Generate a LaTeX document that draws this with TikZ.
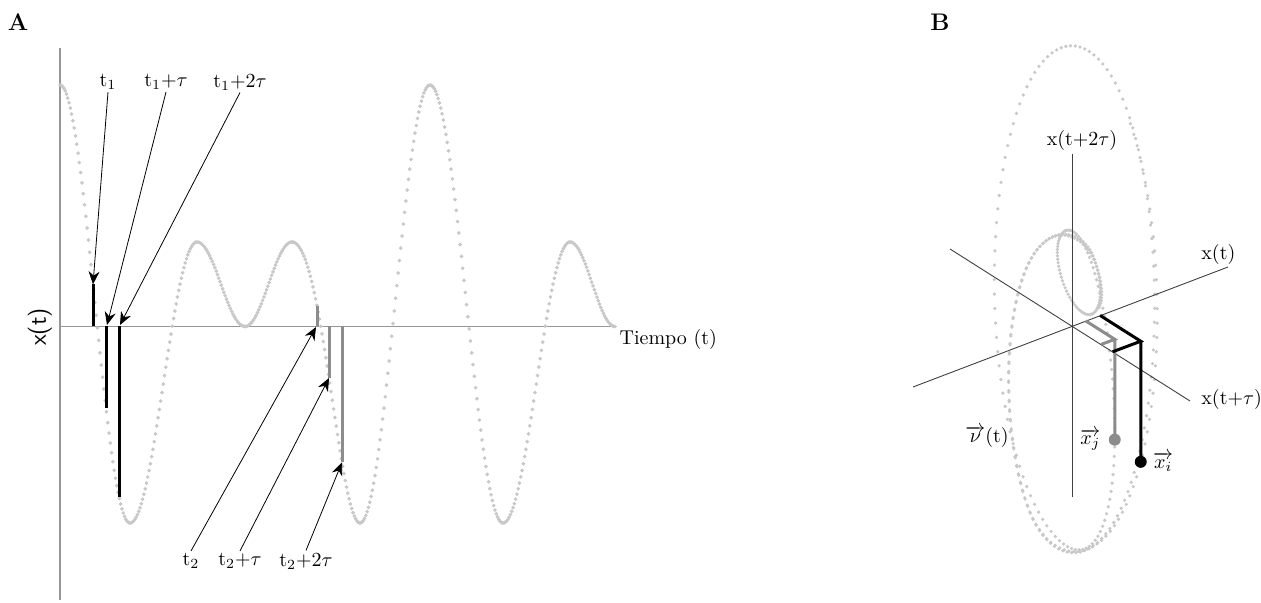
\documentclass[tikz,border=0pt]{standalone}
\usepackage{amsmath}
\usepackage{tikz}
\usetikzlibrary{arrows.meta,calc,positioning}
\definecolor{sigdot}{RGB}{200,200,200}
\definecolor{axgray}{RGB}{150,150,150}
\definecolor{vecgray}{RGB}{140,140,140}

\begin{document}
\begin{tikzpicture}[x=0.5pt, y=-0.5pt,
      declare function={
        seg(\tm,\ta,\tb,\ya,\yb)=\ya+(\yb-\ya)*(1-cos(180*((\tm-\ta)/(\tb-\ta))))/2;
        wrp(\tm)=(\tm-292)/68-0.219*((\tm-292)/68)*(1-(\tm-292)/68);
        sy(\tm)=(\tm<130)?seg(\tm,60,130,85,523):((\tm<197)?seg(\tm,130,197,523,242):((\tm<245)?seg(\tm,197,245,242,326.5):((\tm<292)?seg(\tm,245,292,326.5,242):((\tm<360)?(242+281*(1-cos(180*wrp(\tm)))/2):((\tm<430)?seg(\tm,360,430,523,85):((\tm<503)?seg(\tm,430,503,85,523):((\tm<570)?seg(\tm,503,570,523,242):seg(\tm,570,615,242,326.5))))))));
        sv(\tm)=326.5-sy(\tm);
      },
      bar/.style={line width=1.5pt},
      pointer/.style={-{Stealth[length=6.5pt,width=5.5pt]}, line width=0.4pt},
      tlabel/.style={inner sep=1pt},
      baxis/.style={line width=0.45pt, black!75},
      vec/.style={line width=1.5pt, line join=miter}
    ]
      \useasboundingbox (0,0) rectangle (1261,603);

      % Panel A: serie temporal
      \node[font=\bfseries\large] (labA) at (18,22) {A};
      \draw[axgray, line width=0.65pt] (60,48) -- (60,600);
      \draw[axgray, line width=0.65pt] (60,326.5) -- (617,326.5)
        node[anchor=north west, black, inner sep=1pt] (tiempo) {Tiempo (t)};
      \node[font=\sffamily\large, rotate=90] (ylab) at (40,327) {x(t)};

      \draw[sigdot] plot[only marks, mark=*, mark size=0.7pt, mark options={fill=sigdot},
        domain=60:615, samples=431] (\x,{sy(\x)});

      % valores en t1 y t2
      \coordinate (p1) at (93,{sy(93)});
      \coordinate (p2) at (106,{sy(106)});
      \coordinate (p3) at (119,{sy(119)});
      \coordinate (q1) at (317,{sy(317)});
      \coordinate (q2) at (329,{sy(329)});
      \coordinate (q3) at (342,{sy(342)});
      \draw[bar] (93,326.5) -- (p1);
      \draw[bar] (106,326.5) -- (p2);
      \draw[bar] (119,326.5) -- (p3);
      \draw[bar, vecgray] (317,326.5) -- (q1);
      \draw[bar, vecgray] (329,326.5) -- (q2);
      \draw[bar, vecgray] (342,326.5) -- (q3);
      \coordinate (p2a) at (107,325);
      \coordinate (p3a) at (120,325);
      \coordinate (q1a) at (316,327);

      \node[tlabel] (l1) at (108,82) {t$_1$};
      \node[tlabel] (l2) at (166,82) {t$_1$+$\tau$};
      \node[tlabel] (l3) at (240,82) {t$_1$+2$\tau$};
      \node[tlabel] (m1) at (191,561) {t$_2$};
      \node[tlabel] (m2) at (240,561) {t$_2$+$\tau$};
      \node[tlabel] (m3) at (306,561) {t$_2$+2$\tau$};

      \draw[pointer] (l1.south) -- (p1);
      \draw[pointer] (l2.south) -- (p2a);
      \draw[pointer] (l3.south) -- (p3a);
      \draw[pointer] (m1.north) -- (q1a);
      \draw[pointer] (m2.north) -- (q2);
      \draw[pointer] (m3.north) -- (q3);

      % Panel B: espacio de fases
      \node[font=\bfseries\large] (labB) at (940,22) {B};
      \foreach \k in {0,...,410}{
        \pgfmathsetmacro\tk{60+1.29*\k}
        \pgfmathsetmacro\va{sv(\tk)}
        \pgfmathsetmacro\vb{sv(\tk+13)}
        \pgfmathsetmacro\vc{sv(\tk+26)}
        \fill[sigdot] ({1072+0.667*\va-0.5*\vb},{326-0.25*\va-0.317*\vb-0.708*\vc}) circle[radius=0.9pt];
      }

      \draw[baxis] (1072,154) -- (1072,497);
      \draw[baxis] (913,387) -- (1228,267);
      \draw[baxis] (950,249) -- (1190,401);
      \node (ax3) at (1082,141) {x(t+2$\tau$)};
      \node[anchor=west, inner sep=1pt] (ax1) at (1199,255) {x(t)};
      \node[anchor=west, inner sep=1pt] (ax2) at (1199,400) {x(t+$\tau$)};
      \node (nu) at (987,437) {$\overrightarrow{\nu}$(t)};

      \foreach \ts/\nm/\col in {317/j/vecgray,93/i/black}{
        \pgfmathsetmacro\va{sv(\ts)}
        \pgfmathsetmacro\vb{sv(\ts+13)}
        \pgfmathsetmacro\vc{sv(\ts+26)}
        \coordinate (e1\nm) at ({1072+0.667*\va},{326-0.25*\va});
        \coordinate (e2\nm) at ({1072-0.5*\vb},{326-0.317*\vb});
        \coordinate (c\nm) at ({1072+0.667*\va-0.5*\vb},{326-0.25*\va-0.317*\vb});
        \coordinate (x\nm) at ({1072+0.667*\va-0.5*\vb},{326-0.25*\va-0.317*\vb-0.708*\vc});
        \draw[vec, \col] (e1\nm) -- (c\nm) -- (e2\nm) (c\nm) -- (x\nm);
        \fill[\col] (x\nm) circle[radius=3pt];
      }
      \node[inner sep=1pt, left=6pt of xj] (lxj) {$\overrightarrow{x_j}$};
      \node[inner sep=1pt, right=5pt of xi] (lxi) {$\overrightarrow{x_i}$};
    \end{tikzpicture}
\end{document}
